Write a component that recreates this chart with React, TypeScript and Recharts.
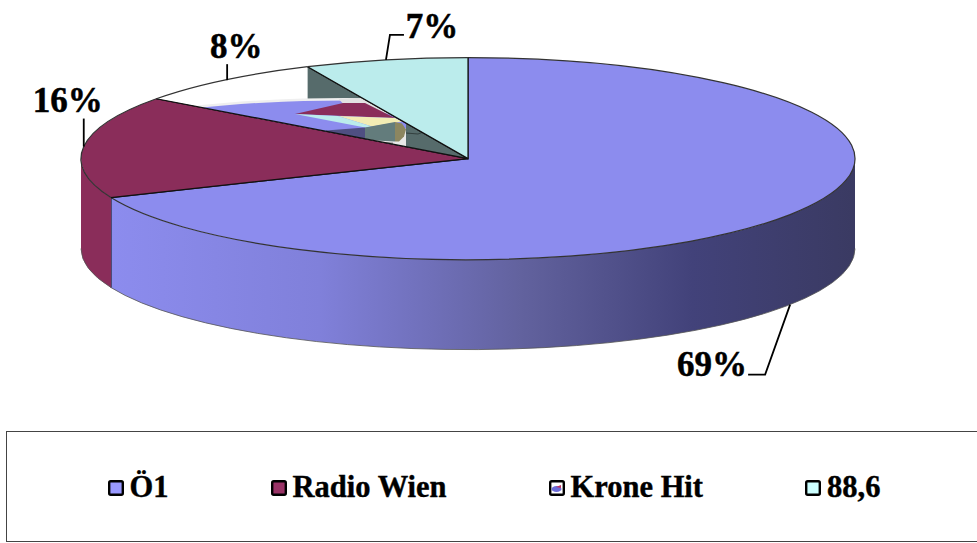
import React from "react";
import { PieChart, Pie, Legend } from "recharts";

const categories = ["Ö1", "Radio Wien", "Krone Hit", "88,6"];
const values = [68.7, 16.4, 8.1, 6.8];
const topColors = ["#8C8CEE", "#8A2D5A", "#FFFFFF", "#BBECEC"];
const legendColors = ["#9999FF", "#993366", "#FFFFFF", "#CCFFFF"];

const chartData = categories.map((name, i) => ({ name, value: values[i], fill: topColors[i] }));

const WIDTH = 977;
const HEIGHT = 543;
const CX = 468;
const CY = 158.6;
const RX = 387;
const TILT = 101 / 387;
const DEPTH = 90;
const FONT = '"Liberation Serif", serif';

// per-slice leader lines / label anchors, as offsets from the slice's rim point
const labelLayout = [
  { base: DEPTH, line: [[0, 0], [-25, 70], [-42, 70]], text: [-78, 60] },
  { base: 0, line: [[0, 0], [0, -28]], text: [-16, -46] },
  { base: 0, line: [[3, 0], [3, -16]], text: [12, -34] },
  { base: 0, line: [[0, 0], [4, -25], [18, -25]], text: [46, -33] },
];

// picture fill of the Krone Hit slice, offsets from the pie centre
const blueTexture = { dx: -123, dy: -31, rx: 213, ry: 27 };
const textureLayers: { color: string; pts: number[][] }[] = [
  { color: "#E2E2E2", pts: [[-130, -60], [-60, -60], [-60, -40], [-125, -55]] },
  { color: "#8A2D5A", pts: [[-173, -44.6], [-125, -55.6], [-103, -55.6], [-73, -40.5]] },
  { color: "#F2ECB4", pts: [[-130, -42.6], [-73, -40.5], [-66, -37], [-96, -32]] },
  { color: "#BBECEC", pts: [[-173, -44.6], [-130, -42.6], [-96, -32], [-103, -31]] },
  { color: "#4F4F82", pts: [[-142, -28], [-103, -31], [-103, -18], [-142, -18]] },
  { color: "#E8E8E8", pts: [[-103, -19], [-62, -30], [-62, 0], [-103, 0]] },
  { color: "#637C7C", pts: [[-103, -31], [-73, -36.5], [-73, -17], [-93, -18], [-103, -20]] },
  { color: "#8C8660", pts: [[-73, -36.5], [-66, -35], [-62, -29], [-64, -22], [-69, -17], [-73, -17]] },
  { color: "#8E8E8E", pts: [[-92, -17], [-75, -16], [-75, -14.5], [-92, -15.5]] },
  { color: "#566B6B", pts: [[-62, -60], [2, -60], [2, 4], [-62, 4]] },
  { color: "#33403F", pts: [[-62, -26], [-50, -25], [-42, -28], [-42, -27], [-50, -24], [-62, -25]] },
];

const rad = (a: number) => (a * Math.PI) / 180;
const pt = (cx: number, cy: number, rx: number, ry: number, a: number) => [
  cx + rx * Math.cos(rad(a)),
  cy - ry * Math.sin(rad(a)),
];
const poly = (p: number[][]) => p.map((q) => q.map((n) => n.toFixed(2)).join(",")).join(" ");

function Slice(props: any) {
  const { cx, cy, outerRadius, startAngle, endAngle, fill, index } = props;
  const rx = outerRadius;
  const ry = outerRadius * TILT;
  const [sx, sy] = pt(cx, cy, rx, ry, startAngle);
  const [ex, ey] = pt(cx, cy, rx, ry, endAngle);
  const large = Math.abs(startAngle - endAngle) > 180 ? 1 : 0;
  const top = `M${cx},${cy} L${sx},${sy} A${rx},${ry} 0 ${large} 1 ${ex},${ey} Z`;

  const wallStart = Math.min(startAngle, 0);
  const wallEnd = Math.max(endAngle, -180);
  let wall = null;
  if (wallStart > wallEnd) {
    const [ax, ay] = pt(cx, cy, rx, ry, wallStart);
    const [bx, by] = pt(cx, cy, rx, ry, wallEnd);
    const d = `M${ax},${ay} A${rx},${ry} 0 0 1 ${bx},${by} L${bx},${by + DEPTH} A${rx},${ry} 0 0 0 ${ax},${ay + DEPTH} Z`;
    wall = (
      <>
        <path d={d} fill={index === 0 ? "url(#wallShade)" : fill} stroke="none" />
        <path d={`M${ax},${ay + DEPTH} A${rx},${ry} 0 0 1 ${bx},${by + DEPTH}`} fill="none" stroke="#555" strokeWidth={0.8} />
        {index === 0 && <line x1={bx} y1={by} x2={bx} y2={by + DEPTH} stroke="#111" strokeWidth={1.2} />}
      </>
    );
  }

  let picture = null;
  if (index === 2) {
    const b = blueTexture;
    picture = (
      <>
        <defs>
          <clipPath id="kroneClip">
            <path d={top} />
          </clipPath>
        </defs>
        <g clipPath="url(#kroneClip)">
          <path d={top} fill="#FFFFFF" />
          <polygon points={poly([[ex, ey], [cx, cy], [cx, cy + DEPTH], [ex, ey + DEPTH]])} fill="#566B6B" />
          <ellipse cx={cx + b.dx} cy={cy + b.dy - 2.5} rx={b.rx} ry={b.ry} fill="#EFEFEF" />
          <ellipse cx={cx + b.dx} cy={cy + b.dy} rx={b.rx} ry={b.ry} fill="#8C8CEE" />
          {textureLayers.map((l, i) => (
            <polygon key={i} points={poly(l.pts.map(([x, y]) => [cx + x, cy + y]))} fill={l.color} />
          ))}
        </g>
      </>
    );
  }

  return (
    <g>
      {wall}
      {picture ?? <path d={top} fill={fill} stroke="none" />}
      <path d={`M${ex},${ey} L${cx},${cy} L${sx},${sy}`} fill="none" stroke="#111" strokeWidth={1.2} />
      <path d={`M${sx},${sy} A${rx},${ry} 0 ${large} 1 ${ex},${ey}`} fill="none" stroke="#333" strokeWidth={1.2} />
    </g>
  );
}

function SliceLabel(props: any) {
  const { cx, cy, outerRadius, midAngle, index, value } = props;
  const [px, py] = pt(cx, cy, outerRadius, outerRadius * TILT, midAngle);
  const lay = labelLayout[index];
  const y0 = py + lay.base;
  const pts = lay.line.map(([x, y]) => [px + x, y0 + y]);
  return (
    <g>
      <polyline points={poly(pts)} fill="none" stroke="#000" strokeWidth={1.8} />
      <text
        x={px + lay.text[0]}
        y={y0 + lay.text[1]}
        textAnchor="middle"
        dominantBaseline="central"
        fontFamily={FONT}
        fontWeight={700}
        fontSize={35}
        stroke="#000"
        strokeWidth={0.5}
        fill="#000"
      >
        {`${Math.round(value)}%`}
      </text>
    </g>
  );
}

function LegendBox(props: any) {
  const payload = props.payload ?? [];
  return (
    <div
      style={{
        boxSizing: "border-box",
        width: "100%",
        height: "100%",
        border: "1.5px solid #444",
        borderRight: "none",
        display: "flex",
        alignItems: "center",
        justifyContent: "center",
        gap: 102,
        paddingLeft: 4,
        paddingTop: 2,
        fontFamily: FONT,
        fontWeight: 700,
        fontSize: 30.5,
        color: "#000",
        WebkitTextStroke: "0.4px #000",
      }}
    >
      {payload.map((entry: any, i: number) => (
        <div key={entry.value} style={{ display: "flex", alignItems: "center", gap: 6 }}>
          <svg width={16} height={16} style={{ display: "block" }}>
            <rect x={1.2} y={1.2} width={13.6} height={13.6} rx={1.5} fill={legendColors[i]} stroke="#000" strokeWidth={2.4} />
            {i === 2 && (
              <>
                <ellipse cx={7.5} cy={9} rx={5} ry={3} fill="#6C6CD8" />
                <polygon points="7,7 12,5 12,8" fill="#C03060" />
              </>
            )}
          </svg>
          <span>{entry.value}</span>
        </div>
      ))}
    </div>
  );
}

export default function App() {
  return (
    <div style={{ position: "absolute", left: 0, top: 0, width: WIDTH, height: HEIGHT, overflow: "hidden", background: "#fff" }}>
      <svg width={0} height={0} style={{ position: "absolute" }}>
        <defs>
          <linearGradient id="wallShade" gradientUnits="userSpaceOnUse" x1={111} y1={0} x2={856} y2={0}>
            <stop offset="0" stopColor="#8C8CEE" />
            <stop offset="0.28" stopColor="#8080DA" />
            <stop offset="0.55" stopColor="#62629E" />
            <stop offset="0.78" stopColor="#42427A" />
            <stop offset="1" stopColor="#3A3A62" />
          </linearGradient>
        </defs>
      </svg>
      <PieChart width={WIDTH} height={HEIGHT} margin={{ top: 0, right: 0, bottom: 0, left: 0 }}>
        <Pie
          data={chartData}
          dataKey="value"
          nameKey="name"
          cx={CX}
          cy={CY}
          innerRadius={0}
          outerRadius={RX}
          startAngle={90}
          endAngle={-270}
          paddingAngle={0}
          stroke="none"
          shape={Slice}
          label={SliceLabel}
          labelLine={false}
          isAnimationActive={false}
        />
        <Legend
          content={LegendBox}
          itemSorter={null}
          wrapperStyle={{ position: "absolute", left: 6, top: 431, bottom: "auto", width: 971, height: 111 }}
        />
      </PieChart>
    </div>
  );
}
